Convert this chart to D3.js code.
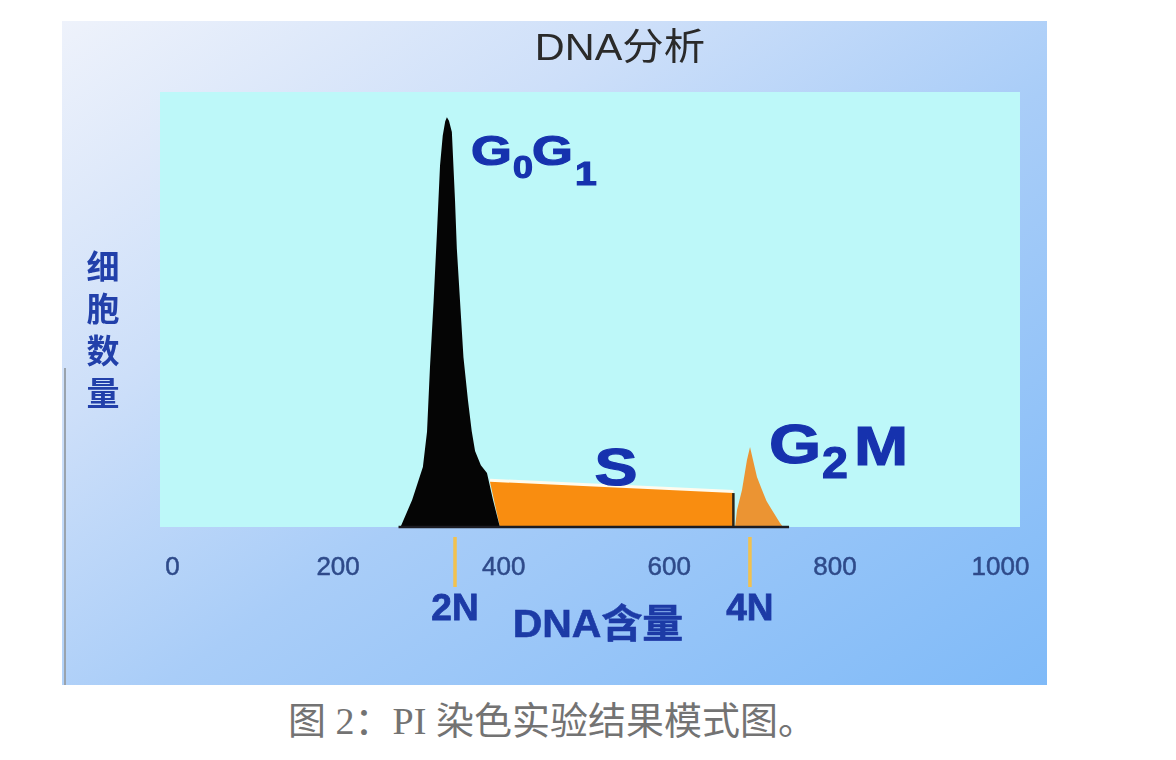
<!DOCTYPE html>
<html>
<head>
<meta charset="utf-8">
<script src="https://cdn.jsdelivr.net/npm/d3@7/dist/d3.min.js"></script>
<style>
  html, body { margin: 0; padding: 0; background: #ffffff; }
  svg { display: block; }
</style>
</head>
<body>
<svg id="chart" width="1176" height="760"></svg>
<script>
// ---------- data ----------
const chartTitle = "DNA分析";
const xAxisTitle = "DNA含量";
const yAxisTitle = "细胞数量";
const caption = "图 2：PI 染色实验结果模式图。";
const xTicks = [0, 200, 400, 600, 800, 1000];

// G0/G1 peak (DNA content, relative cell count)
const g0g1X = [276, 290, 303, 308, 311.6, 316, 320, 323.7, 327, 330, 332, 334.5, 338, 341.8, 344, 347.8, 352, 357.5, 362, 366, 373, 380.4, 387.7, 396];
const g0g1Y = [0, 6.2, 13.8, 21.9, 36.9, 52, 67.7, 83.1, 90, 93.3, 94.2, 93.4, 90.8, 75.1, 64, 52.1, 39, 29, 22, 17.5, 14.2, 12.4, 6.2, 0];

// S phase plateau
const sX = [396, 384, 678, 678];
const sY = [0, 10.4, 7.8, 0];

// G2/M peak
const g2mX = [680, 682.4, 688.4, 694.4, 698.1, 701.7, 706.5, 712.6, 718, 724.6, 734.3, 738];
const g2mY = [0, 3.9, 8.5, 15.4, 18.4, 15.4, 11.5, 8.5, 6, 3.9, 0.9, 0];

// ploidy markers
const markerLabels = ["2N", "4N"];
const markerX = [341.8, 698];

// ---------- drawing ----------
const svg = d3.select("#chart");
const panel = { x: 62, y: 21, w: 985, h: 664 };
const plot = { left: 160, right: 1020, top: 92, bottom: 527 };

const x = d3.scaleLinear().domain([0, 1000]).range([172, 1000]);
const y = d3.scaleLinear().domain([0, 100]).range([plot.bottom, plot.top]);

const defs = svg.append("defs");
const grad = defs.append("linearGradient").attr("id", "bg")
  .attr("x1", "0").attr("y1", "0").attr("x2", "1").attr("y2", "1");
grad.append("stop").attr("offset", "0%").attr("stop-color", "#eef2fb");
grad.append("stop").attr("offset", "30%").attr("stop-color", "#cddff9");
grad.append("stop").attr("offset", "55%").attr("stop-color", "#a9cdf8");
grad.append("stop").attr("offset", "100%").attr("stop-color", "#7fbaf8");

const soft = defs.append("filter").attr("id", "soft");
soft.append("feGaussianBlur").attr("stdDeviation", 0.55);

// outer panel
svg.append("rect")
  .attr("x", panel.x).attr("y", panel.y)
  .attr("width", panel.w).attr("height", panel.h)
  .attr("fill", "url(#bg)");

// thin grey edge line on the left
svg.append("line")
  .attr("x1", 65).attr("x2", 65).attr("y1", 368).attr("y2", panel.y + panel.h)
  .attr("stroke", "#9aa3ad").attr("stroke-width", 2);

// plot area
svg.append("rect")
  .attr("x", plot.left).attr("y", plot.top)
  .attr("width", plot.right - plot.left).attr("height", plot.bottom - plot.top)
  .attr("fill", "#bdf8f9");

// helper: a horizontally stretched text glyph group
function stretched(str, px, py, size, sx, opts = {}) {
  return svg.append("text")
    .attr("transform", `translate(${px},${py}) scale(${sx},1)`)
    .attr("x", 0).attr("y", 0)
    .attr("text-anchor", opts.anchor || "start")
    .attr("font-family", opts.family || "'Liberation Sans', Arial, sans-serif")
    .attr("font-weight", opts.weight || "bold")
    .attr("font-size", size)
    .attr("fill", opts.fill || "#1732ae")
    .attr("stroke", opts.stroke || "none")
    .attr("stroke-width", opts.strokeWidth || 0)
    .attr("filter", "url(#soft)")
    .text(str);
}

// title
stretched(chartTitle, 620, 60, 37, 1.12, {
  anchor: "middle", weight: "normal", fill: "#2b2b2b",
  family: "'Liberation Sans', 'Noto Sans CJK SC', sans-serif"
});

// S phase: white highlight + orange fill
const sPts = sX.map((v, i) => [v, sY[i]]);
svg.append("path")
  .datum(sPts.slice(1, 3))
  .attr("d", d3.line().x(d => x(d[0])).y(d => y(d[1])))
  .attr("stroke", "#fffbee").attr("stroke-width", 6).attr("fill", "none");
svg.append("path")
  .datum(sPts)
  .attr("d", d3.line().x(d => x(d[0])).y(d => y(d[1])))
  .attr("fill", "#f98d10");
svg.append("line")
  .attr("x1", x(sX[2])).attr("x2", x(sX[3]))
  .attr("y1", y(sY[2])).attr("y2", y(sY[3]))
  .attr("stroke", "#2a2418").attr("stroke-width", 2.5);

// G2/M peak
const g2mPts = g2mX.map((v, i) => [v, g2mY[i]]);
svg.append("path")
  .datum(g2mPts)
  .attr("d", d3.area().x(d => x(d[0])).y0(y(0)).y1(d => y(d[1])))
  .attr("fill", "#eb9433");

// G0/G1 peak
const g1Pts = g0g1X.map((v, i) => [v, g0g1Y[i]]);
svg.append("path")
  .datum(g1Pts)
  .attr("d", d3.area().x(d => x(d[0])).y0(y(0)).y1(d => y(d[1])).curve(d3.curveLinear))
  .attr("fill", "#050505");

// baseline
svg.append("line")
  .attr("x1", x(g0g1X[0]) - 2).attr("x2", x(g2mX[g2mX.length - 1]) + 6)
  .attr("y1", y(0)).attr("y2", y(0))
  .attr("stroke", "#1c1c22").attr("stroke-width", 2.5);

// x axis tick labels
const axis = d3.axisBottom(x).tickValues(xTicks).tickSize(0).tickPadding(0).tickFormat(d3.format("d"));
const gAxis = svg.append("g").attr("transform", `translate(0, 557)`).call(axis);
gAxis.select(".domain").remove();
gAxis.selectAll("text")
  .attr("font-family", "'Liberation Sans', Arial, sans-serif")
  .attr("font-size", 26)
  .attr("fill", "#2f4b8a")
  .attr("stroke", "#2f4b8a")
  .attr("stroke-width", 0.5)
  .attr("filter", "url(#soft)");

// ploidy markers
const mk = svg.append("g");
mk.selectAll("line").data(markerX).join("line")
  .attr("x1", d => x(d)).attr("x2", d => x(d))
  .attr("y1", 537).attr("y2", 587)
  .attr("stroke", "#f2c14e").attr("stroke-width", 3.5);
mk.selectAll("text").data(markerLabels).join("text")
  .attr("x", (d, i) => x(markerX[i]))
  .attr("y", 620)
  .attr("text-anchor", "middle")
  .attr("font-family", "'Liberation Sans', Arial, sans-serif")
  .attr("font-weight", "bold")
  .attr("font-size", 37)
  .attr("fill", "#1d3aa6")
  .attr("stroke", "#1d3aa6")
  .attr("stroke-width", 0.8)
  .attr("filter", "url(#soft)")
  .text(d => d);

// x axis title
stretched(xAxisTitle, 598, 637, 39, 1.05, {
  anchor: "middle", fill: "#1d3aa6", stroke: "#1d3aa6", strokeWidth: 0.6,
  family: "'Liberation Sans', 'Noto Sans CJK SC', sans-serif"
});

// y axis title (vertical)
svg.append("text")
  .attr("x", 103).attr("y", 250)
  .attr("writing-mode", "vertical-rl")
  .attr("letter-spacing", 9)
  .attr("font-family", "'Noto Sans CJK SC', sans-serif")
  .attr("font-weight", "bold")
  .attr("font-size", 33)
  .attr("fill", "#2140aa")
  .attr("filter", "url(#soft)")
  .text(yAxisTitle);

// phase labels (glyph by glyph, with subscripts)
const heavy = { stroke: "#1732ae", strokeWidth: 1.2 };
stretched("G", 471, 165, 42, 1.25, heavy);
stretched("0", 513, 178, 32, 1.12, heavy);
stretched("G", 532, 165, 42, 1.25, heavy);
stretched("1", 575, 185, 34, 1.15, heavy);

stretched("G", 769, 463, 55, 1.22, heavy);
stretched("2", 822, 478, 44, 1.06, heavy);
stretched("M", 854, 465, 56, 1.16, heavy);

stretched("S", 616, 485, 52, 1.24, Object.assign({ anchor: "middle" }, heavy));

// caption
svg.append("text")
  .attr("x", 552).attr("y", 734)
  .attr("text-anchor", "middle")
  .attr("font-family", "'Liberation Serif', 'Noto Sans CJK SC', serif")
  .attr("font-size", 38)
  .attr("fill", "#737373")
  .text(caption);
</script>
</body>
</html>
